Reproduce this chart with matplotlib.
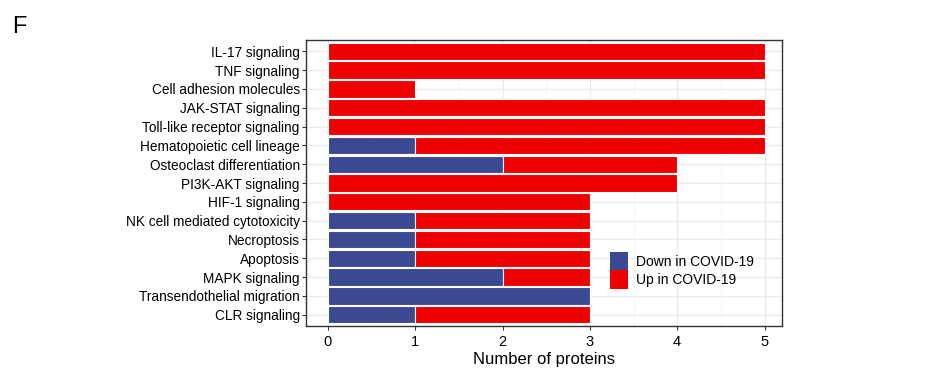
import numpy as np
import matplotlib
matplotlib.use("Agg")
from matplotlib import pyplot as plt
from matplotlib.patches import Patch

plt.rcParams["font.family"] = ["Liberation Sans", "DejaVu Sans"]

# DATA (top to bottom as shown)
pathways = ["IL-17 signaling", "TNF signaling", "Cell adhesion molecules",
            "JAK-STAT signaling", "Toll-like receptor signaling",
            "Hematopoietic cell lineage", "Osteoclast differentiation",
            "PI3K-AKT signaling", "HIF-1 signaling",
            "NK cell mediated cytotoxicity", "Necroptosis", "Apoptosis",
            "MAPK signaling", "Transendothelial migration", "CLR signaling"]
down_counts = [0, 0, 0, 0, 0, 1, 2, 0, 0, 1, 1, 1, 2, 3, 1]
up_counts = [5, 5, 1, 5, 5, 4, 2, 4, 3, 2, 2, 2, 1, 0, 2]

blue = "#3B4992"
red = "#EE0000"

fig = plt.figure(figsize=(9.25, 3.69), dpi=100)
ax = fig.add_axes([0.3308, 0.1165, 0.5146, 0.775])

y = np.arange(len(pathways))[::-1]
down = np.array(down_counts)
up = np.array(up_counts)

ax.barh(y, down, height=0.92, color=blue, edgecolor="white", linewidth=0.8, zorder=3)
ax.barh(y, up, left=down, height=0.92, color=red, edgecolor="white", linewidth=0.8, zorder=3)

ax.set_xlim(-0.25, 5.2)
ax.set_ylim(-0.6, len(pathways) - 0.4)
ax.set_yticks(y)
ax.set_yticklabels(pathways, fontsize=9.8)
ax.set_xticks(np.arange(0, 6))
ax.set_xticks(np.arange(0.5, 5.5, 1), minor=True)
ax.tick_params(axis="x", labelsize=10.5, colors="#333333", labelcolor="black", length=3)
ax.tick_params(axis="y", colors="#333333", labelcolor="black", length=3, pad=1.5)
ax.tick_params(axis="x", which="minor", length=0)

ax.grid(which="major", color="#EBEBEB", linewidth=1.0, zorder=0)
ax.grid(which="minor", axis="x", color="#F2F2F2", linewidth=0.6, zorder=0)
ax.set_axisbelow(True)
for s in ax.spines.values():
    s.set_color("#333333")
    s.set_linewidth(1.0)

ax.set_xlabel("Number of proteins", fontsize=12, labelpad=2)

handles = [Patch(facecolor=blue, label="Down in COVID-19"),
           Patch(facecolor=red, label="Up in COVID-19")]
ax.legend(handles=handles, loc="lower right", bbox_to_anchor=(0.962, 0.097),
          frameon=False, fontsize=10, handlelength=1.3, handleheight=1.65,
          handletextpad=0.6, labelspacing=0.0, borderpad=0.2)

fig.text(0.013, 0.91, "F", fontsize=17)

plt.savefig("out.png", dpi=100)
plt.close()
